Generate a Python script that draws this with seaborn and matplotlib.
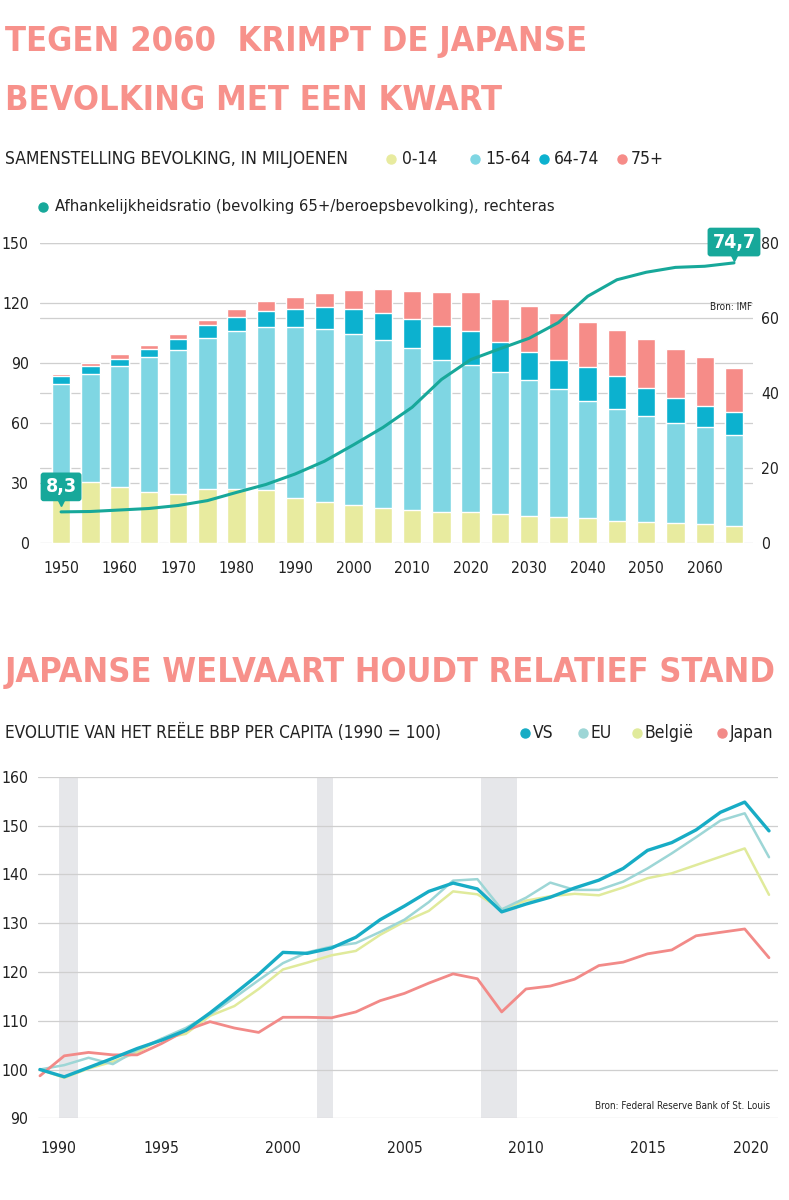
import os
import numpy as np
import pandas as pd
import matplotlib
matplotlib.use("Agg")
import matplotlib.pyplot as plt
from matplotlib.lines import Line2D
from matplotlib import transforms, font_manager
import seaborn as sns

# Japanse bevolking per leeftijdsgroep (miljoenen), 5-jaarlijks
years = [1950, 1955, 1960, 1965, 1970, 1975, 1980, 1985, 1990, 1995, 2000, 2005,
         2010, 2015, 2020, 2025, 2030, 2035, 2040, 2045, 2050, 2055, 2060, 2065]
age_0_14 = [29.5, 30.5, 28.0, 25.5, 24.7, 27.2, 27.0, 26.3, 22.7, 20.3, 19.2, 17.7,
            16.7, 15.5, 15.5, 14.3, 13.3, 12.8, 12.5, 11.0, 10.7, 10.2, 9.5, 8.7]
age_15_64 = [50.0, 54.2, 60.3, 67.3, 72.0, 75.3, 79.2, 81.7, 85.3, 86.7, 85.5, 84.0,
             80.8, 76.0, 73.3, 71.0, 68.4, 64.2, 58.7, 56.2, 53.0, 49.8, 48.5, 45.5]
age_64_74 = [3.8, 3.6, 3.7, 4.4, 5.5, 6.7, 6.8, 7.8, 9.0, 10.8, 12.5, 13.3,
             14.7, 17.2, 17.2, 15.0, 13.8, 14.7, 16.6, 16.1, 13.8, 12.5, 10.7, 11.3]
age_75_plus = [1.2, 1.7, 2.5, 2.0, 2.1, 2.5, 4.2, 5.0, 6.2, 7.4, 9.3, 11.8,
               14.0, 16.8, 19.5, 21.7, 23.2, 23.3, 22.9, 23.0, 24.5, 24.7, 24.1, 22.2]
# afhankelijkheidsratio (rechteras)
ratio = [8.3, 8.4, 8.8, 9.2, 10.0, 11.3, 13.5, 15.6, 18.4, 21.8, 26.2, 30.8,
         36.2, 43.6, 48.9, 51.8, 54.6, 58.8, 65.8, 70.2, 72.2, 73.5, 73.8, 74.7]
left_ticks = [0, 30, 60, 90, 120, 150]
right_ticks = [0, 20, 40, 60, 80]
age_labels = ["0-14", "15-64", "64-74", "75+"]

# reeel bbp per capita (1990 = 100)
gdp_years = list(range(1990, 2021))
vs = [100.0, 98.5, 100.4, 102.3, 104.3, 106.0, 108.0, 111.6, 115.5, 119.5, 124.0,
      123.8, 124.9, 127.1, 130.7, 133.5, 136.5, 138.2, 137.0, 132.3, 133.9,
      135.3, 137.2, 138.8, 141.2, 144.9, 146.5, 149.1, 152.7, 154.8, 148.9]
eu = [100.0, 100.9, 102.4, 101.1, 104.0, 106.3, 108.5, 111.3, 114.7, 118.3, 121.8,
      124.0, 125.2, 125.9, 128.2, 130.7, 134.3, 138.7, 139.0, 132.8, 135.2,
      138.3, 136.8, 136.8, 138.5, 141.2, 144.3, 147.6, 151.0, 152.5, 143.5]
belgie = [100.0, 98.3, 100.2, 101.6, 103.5, 106.3, 107.3, 111.0, 113.0, 116.5, 120.5,
          121.9, 123.4, 124.3, 127.6, 130.3, 132.5, 136.5, 135.9, 132.8, 134.6,
          135.5, 136.0, 135.7, 137.3, 139.2, 140.2, 141.9, 143.6, 145.3, 135.8]
japan = [98.7, 102.8, 103.5, 103.0, 103.0, 105.3, 108.0, 109.8, 108.5, 107.6, 110.7,
         110.7, 110.6, 111.8, 114.1, 115.6, 117.7, 119.6, 118.6, 111.8, 116.5,
         117.1, 118.5, 121.3, 122.0, 123.7, 124.5, 127.4, 128.1, 128.8, 122.9]
recessions = [(1990.8, 1991.55), (2001.4, 2002.05), (2008.15, 2009.65)]
gdp_ticks = [1990, 1995, 2000, 2005, 2010, 2015, 2020]

# kleuren
c_yellow = "#e8eb9f"
c_light = "#7fd6e3"
c_blue = "#0cb1cf"
c_salmon = "#f68c88"
c_green = "#17a89a"
c_title = "#f7918b"
c_grid = "#cfcfcf"
c_text = "#222222"
series_colors = {"VS": "#17acc5", "EU": "#9dd6d6", "België": "#e0ea9b", "Japan": "#f28a88"}

sns.set_theme(style="white")
plt.rcParams["font.family"] = ["DejaVu Sans"]


# smalle lettertypes zoeken (krantenstijl)
def find_font(*files):
    have = {os.path.basename(f.fname).lower(): f.fname for f in font_manager.fontManager.ttflist}
    for f in files:
        if f.lower() in have:
            return have[f.lower()]
    return None


title_font = find_font("NotoSans-ExtraCondensedBold.ttf", "NotoSans-CondensedBold.ttf",
                       "LiberationSansNarrow-Bold.ttf", "DejaVuSansCondensed-Bold.ttf",
                       "Roboto-Bold.ttf")
body_font = find_font("NotoSans-ExtraCondensed.ttf", "NotoSans-Condensed.ttf",
                      "LiberationSansNarrow-Regular.ttf", "DejaVuSansCondensed.ttf",
                      "Roboto-Regular.ttf")


def fprop(path, size, bold=False):
    if path:
        return font_manager.FontProperties(fname=path, size=size)
    return font_manager.FontProperties(family="DejaVu Sans", size=size,
                                       weight="bold" if bold else "normal")


W, H = 789, 1200
fig = plt.figure(figsize=(W / 100, H / 100), dpi=100)
fig.patch.set_facecolor("white")
renderer = fig.canvas.get_renderer()


def box(l, t, r, b):
    return [l / W, 1 - b / H, (r - l) / W, (b - t) / H]


# tekstgrootte zodat "150" ongeveer even breed is als in het origineel
probe = fig.text(0, 0, "150", fontproperties=fprop(body_font, 15))
tick_size = min(15, 15 * 27 / probe.get_window_extent(renderer).width)
probe.remove()
tick_fp = fprop(body_font, tick_size)

# ---------------- bovenste grafiek ----------------
ax = fig.add_axes(box(40, 243, 753, 543))
cats = [str(y) for y in years]
layers = [age_0_14, age_15_64, age_64_74, age_75_plus]
stack_colors = [c_yellow, c_light, c_blue, c_salmon]
cum = np.cumsum(np.array(layers), axis=0)
# grootste stapel eerst, kleinere erover
for i in range(3, -1, -1):
    sns.barplot(x=cats, y=cum[i], color=stack_colors[i], saturation=1, width=0.63,
                errorbar=None, ax=ax, zorder=2)

ax.set_ylim(0, 150)
ax.set_yticks(left_ticks)
for v in left_ticks:
    ax.axhline(v, color=c_grid, lw=0.9, zorder=0)
for v in right_ticks[1:]:
    ax.axhline(v * 150 / 80, color=c_grid, lw=0.9, zorder=0)

ax2 = ax.twinx()
pos = np.arange(len(years))
sns.lineplot(x=pos, y=ratio, ax=ax2, color=c_green, linewidth=2.2, zorder=5)
ax2.set_ylim(0, 80)
ax2.set_yticks(right_ticks)

ax.set_xlim(-0.72, 23.65)
ax.set_xticks(pos[::2], labels=cats[::2])
ax.set_xlabel("")
ax.set_ylabel("")
ax2.set_ylabel("")
for a in (ax, ax2):
    for s in a.spines.values():
        s.set_visible(False)
    a.grid(False)
ax.tick_params(axis="x", length=0, pad=13, labelcolor=c_text)
ax.tick_params(axis="y", length=0, pad=8, labelcolor=c_text)
ax2.tick_params(axis="y", length=0, pad=6, labelcolor=c_text)

# waardelabels
for idx, dy in ((0, 18), (len(years) - 1, 15)):
    val = ratio[idx]
    ax2.annotate(f"{val:.1f}".replace(".", ","), xy=(idx, val), xytext=(0, dy),
                 textcoords="offset points", ha="center", va="center",
                 color="white", fontproperties=fprop(title_font, 14, bold=True), zorder=7,
                 bbox=dict(boxstyle="round,pad=0.25,rounding_size=0.15", fc=c_green, ec="none"))
    tr = transforms.offset_copy(ax2.transData, fig=fig, x=0, y=dy - 11, units="points")
    ax2.plot([idx], [val], marker="v", ms=6, color=c_green, transform=tr, zorder=7)

# ---------------- onderste grafiek ----------------
bx = fig.add_axes(box(38, 776.7, 778, 1118.3))
for start, end in recessions:
    bx.axvspan(start, end, color="#e6e7ea", lw=0, zorder=0)
for v in range(90, 161, 10):
    bx.axhline(v, color=c_grid, lw=0.9, zorder=1)

gdp = pd.DataFrame({"jaar": gdp_years * 4,
                    "index": belgie + eu + japan + vs,
                    "land": ["België"] * 31 + ["EU"] * 31 + ["Japan"] * 31 + ["VS"] * 31})
widths = {"België": 1.8, "EU": 1.8, "Japan": 2.0, "VS": 2.4}
for land in ["België", "EU", "Japan", "VS"]:
    sns.lineplot(data=gdp[gdp["land"] == land], x="jaar", y="index",
                 color=series_colors[land], linewidth=widths[land], ax=bx, zorder=3)

bx.set_xlim(1989.92, 2020.37)
bx.set_ylim(90, 160)
bx.set_yticks(range(90, 161, 10))
bx.set_xticks(gdp_ticks, labels=[str(t) for t in gdp_ticks])
xl = bx.get_xticklabels()
xl[0].set_ha("left")
xl[-1].set_ha("right")
bx.set_xlabel("")
bx.set_ylabel("")
for s in bx.spines.values():
    s.set_visible(False)
bx.grid(False)
bx.tick_params(axis="x", length=0, pad=16, labelcolor=c_text)
bx.tick_params(axis="y", length=0, pad=7, labelcolor=c_text)

for a in (ax, ax2, bx):
    for lab in a.get_xticklabels() + a.get_yticklabels():
        lab.set_fontproperties(tick_fp)


# ---------------- teksten ----------------
def put(x, y, s, width=None, size=12, ha="left", font=None, bold=False, **kw):
    t = fig.text(x / W, 1 - y / H, s, ha=ha, va="center",
                 fontproperties=fprop(font or body_font, size, bold), **kw)
    if width is not None:
        bb = t.get_window_extent(renderer)
        t.set_fontsize(size * width / bb.width)
    return t


def dot(x, y, color):
    fig.add_artist(Line2D([x / W], [1 - y / H], marker="o", ms=6.5, color=color,
                          lw=0, transform=fig.transFigure))


t1 = put(5, 41, "TEGEN 2060  KRIMPT DE JAPANSE", width=580, size=40,
         font=title_font, bold=True, color=c_title)
put(5, 101, "BEVOLKING MET EEN KWART", size=t1.get_fontsize(),
    font=title_font, bold=True, color=c_title)

s1 = put(5, 159, "SAMENSTELLING BEVOLKING, IN MILJOENEN", width=345, size=12, color=c_text)
fs = s1.get_fontsize()
for (dx, tx), lab, col in zip([(391, 402), (475, 485), (544, 554), (622, 631)],
                              age_labels, stack_colors):
    dot(dx, 159, col)
    put(tx, 159, lab, size=fs, color=c_text)
dot(43, 207, c_green)
put(55, 207, "Afhankelijkheidsratio (bevolking 65+/beroepsbevolking), rechteras",
    width=495, size=fs, color=c_text)
put(752, 307, "Bron: IMF", width=42, size=8, ha="right", color=c_text)

t2 = put(5, 672, "JAPANSE WELVAART HOUDT RELATIEF STAND", width=770, size=40,
         font=title_font, bold=True, color=c_title)
put(5, 733, "EVOLUTIE VAN HET REËLE BBP PER CAPITA (1990 = 100)", width=435,
    size=12, color=c_text)
for (dx, tx), lab in zip([(525, 533), (583, 591), (637, 645), (722, 730)],
                         ["VS", "EU", "België", "Japan"]):
    dot(dx, 733, series_colors[lab])
    put(tx, 733, lab, size=fs, color=c_text)
put(770, 1106, "Bron: Federal Reserve Bank of St. Louis", width=175, size=8,
    ha="right", color=c_text)

fig.savefig("out.png", dpi=100, facecolor="white")
